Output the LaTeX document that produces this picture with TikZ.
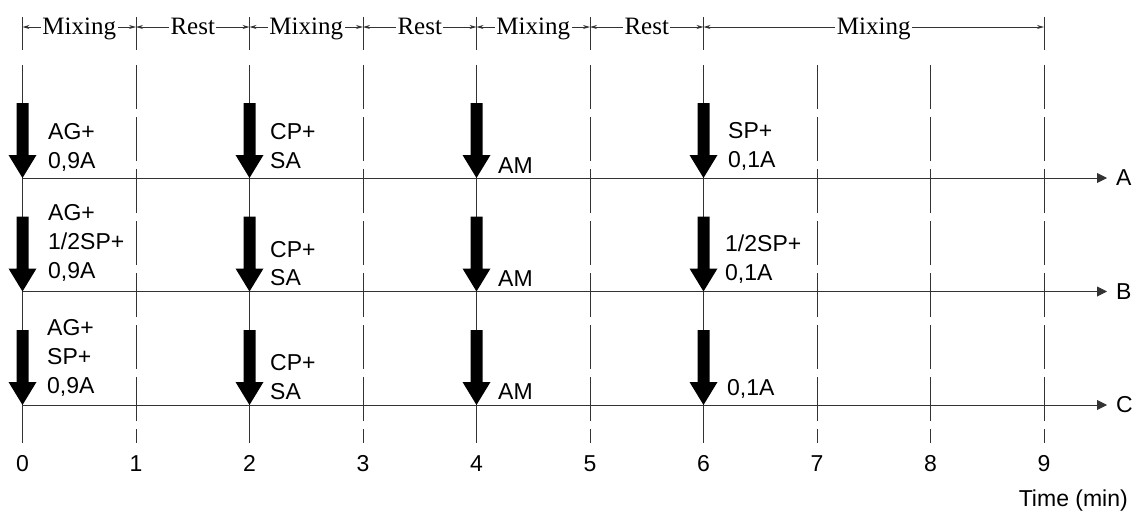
\documentclass[tikz,border=0pt]{standalone}
\usepackage{fontspec}
\setmainfont{Liberation Sans}
\newfontfamily\phasefont{Liberation Serif}
\usetikzlibrary{arrows.meta}
\begin{document}
\begin{tikzpicture}[x=1pt,y=-1pt,
  thinline/.style={draw=black!80, line width=0.9pt},
  griddash/.style={thinline, dash pattern=on 44pt off 8pt},
  lbl/.style={anchor=base west, inner sep=0pt, font=\fontsize{23}{23}\selectfont},
  num/.style={anchor=base, inner sep=0pt, font=\fontsize{23}{23}\selectfont},
  phase/.style={fill=white, inner sep=1.5pt, anchor=base, yshift=-7pt,
    font=\phasefont\fontsize{25}{25}\selectfont},
  dimline/.style={thinline, line width=0.8pt,
    {Stealth[length=7pt,width=4pt]}-{Stealth[length=7pt,width=4pt]}},
  axisline/.style={thinline, -{Triangle[length=10pt,width=10pt]}},
  drop/.style={fill=black}]
\useasboundingbox (0,0) rectangle (1136,515);

% column positions (minutes 0..9)
\foreach \i in {0,...,9} {
  \coordinate (top\i) at ({22.5+113.5*\i},17);
  \coordinate (dim\i) at ({22.5+113.5*\i},27);
  \coordinate (hi\i)  at ({22.5+113.5*\i},65);
  \coordinate (lo\i)  at ({22.5+113.5*\i},443);
}

% phase boundaries
\foreach \i in {0,1,2,3,4,5,6,9}
  \draw[thinline] (top\i) -- ++(0,33);

% phase dimension lines
\draw[dimline] (dim0) -- (dim1) node[midway,phase] (ph1) {Mixing};
\draw[dimline] (dim1) -- (dim2) node[midway,phase] (ph2) {Rest};
\draw[dimline] (dim2) -- (dim3) node[midway,phase] (ph3) {Mixing};
\draw[dimline] (dim3) -- (dim4) node[midway,phase] (ph4) {Rest};
\draw[dimline] (dim4) -- (dim5) node[midway,phase] (ph5) {Mixing};
\draw[dimline] (dim5) -- (dim6) node[midway,phase] (ph6) {Rest};
\draw[dimline] (dim6) -- (dim9) node[midway,phase] (ph7) {Mixing};

% time grid
\foreach \i in {0,2,4,6}
  \draw[thinline] (hi\i) -- (lo\i);
\foreach \i in {1,3,5,7,8,9}
  \draw[griddash] (hi\i) -- (lo\i);

% time axes of the three procedures
\foreach \r/\y in {A/178,B/291.5,C/405} {
  \coordinate (start\r) at (22.5,\y);
  \coordinate (end\r) at (1107,\y);
  \node[inner sep=0pt, anchor=west, font=\fontsize{23}{23}\selectfont] (name\r) at (1116,\y) {\r};
  \draw[axisline] (start\r) -- (end\r);
}

% ingredient additions
\foreach \y in {178,291.5,405}
  \foreach \i in {0,2,4,6} {
    \pgfmathsetmacro{\X}{22.5+113.5*\i}
    \fill[drop] (\X-6,\y-75) -- (\X+6,\y-75) -- (\X+6,\y-23) -- (\X+14,\y-23)
      -- (\X,\y) -- (\X-14,\y-23) -- (\X-6,\y-23) -- cycle;
  }

% procedure A
\node[lbl] (a0a) at (48,139) {AG+};
\node[lbl] (a0b) at (48,168) {0,9A};
\node[lbl] (a2a) at (270,139) {CP+};
\node[lbl] (a2b) at (270,168) {SA};
\node[lbl] (a4a) at (498,173) {AM};
\node[lbl] (a6a) at (728,138) {SP+};
\node[lbl] (a6b) at (728,167) {0,1A};

% procedure B
\node[lbl] (b0a) at (48,220) {AG+};
\node[lbl] (b0b) at (48,249) {1/2SP+};
\node[lbl] (b0c) at (48,278) {0,9A};
\node[lbl] (b2a) at (270,257) {CP+};
\node[lbl] (b2b) at (270,285) {SA};
\node[lbl] (b4a) at (498,286) {AM};
\node[lbl] (b6a) at (725,251) {1/2SP+};
\node[lbl] (b6b) at (725,280) {0,1A};

% procedure C
\node[lbl] (c0a) at (47,335) {AG+};
\node[lbl] (c0b) at (47,364) {SP+};
\node[lbl] (c0c) at (47,393) {0,9A};
\node[lbl] (c2a) at (270,370) {CP+};
\node[lbl] (c2b) at (270,399) {SA};
\node[lbl] (c4a) at (498,399) {AM};
\node[lbl] (c6a) at (727,395) {0,1A};

% minute labels
\foreach \i in {0,...,9}
  \node[num] (t\i) at ({22.5+113.5*\i},471) {\i};
\node[anchor=base east, inner sep=0pt, font=\fontsize{23}{23}\selectfont] (unit) at (1128,506) {Time (min)};
\end{tikzpicture}
\end{document}
